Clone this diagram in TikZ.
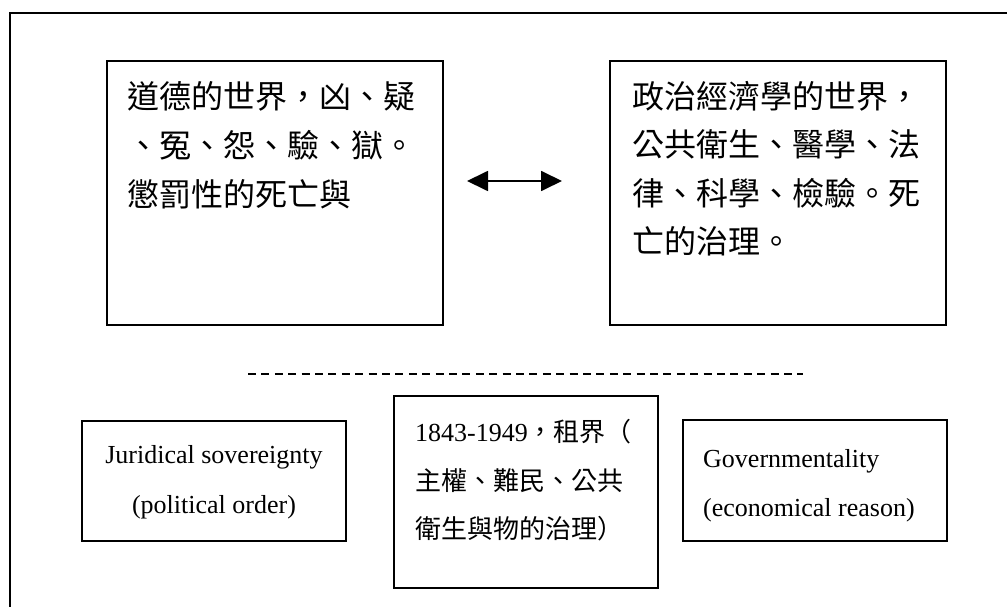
\documentclass[tikz,border=0pt]{standalone}
\usepackage{fontspec}
\setmainfont{Liberation Serif}
\newfontfamily\cjk{Noto Sans CJK TC}
\usetikzlibrary{arrows.meta}
\begin{document}
\begin{tikzpicture}[x=1pt,y=-1pt,
  frame/.style={line width=2pt},
  box/.style={draw, line width=1.8pt, inner sep=0pt, outer sep=0pt},
  bigcjk/.style={anchor=base west, inner sep=0pt, font=\cjk\fontsize{32}{32}\selectfont},
  smallcjk/.style={anchor=base west, inner sep=0pt, font=\cjk\fontsize{26}{26}\selectfont},
  entext/.style={inner sep=0pt, font=\fontsize{26}{26}\selectfont},
  dblarrow/.style={line width=1.8pt, {Triangle[length=21pt,width=20pt]}-{Triangle[length=21pt,width=20pt]}},
  sepline/.style={line width=1.3pt, dash pattern=on 8pt off 5.4pt}
]
\clip (0,0) rectangle (1007,607);
\fill[white] (0,0) rectangle (1007,607);
\draw[frame] (1040,13) -- (10,13) -- (10,640);

% upper boxes
\node[box, minimum width=336pt, minimum height=264pt] (b1) at (275,193) {};
\node[box, minimum width=336pt, minimum height=264pt] (b2) at (778,193) {};

\node[bigcjk] (b1l1) at (127,109) {道德的世界，凶、疑};
\node[bigcjk] (b1l2) at (127,158) {、冤、怨、驗、獄。};
\node[bigcjk] (b1l3) at (127,207) {懲罰性的死亡與};

\node[bigcjk] (b2l1) at (632,109) {政治經濟學的世界，};
\node[bigcjk] (b2l2) at (632,157) {公共衛生、醫學、法};
\node[bigcjk] (b2l3) at (632,205) {律、科學、檢驗。死};
\node[bigcjk] (b2l4) at (632,253) {亡的治理。};

\draw[dblarrow, shorten <=24pt, shorten >=48pt] ([yshift=12pt]b1.east) -- ([yshift=12pt]b2.west);

% dashed separator
\coordinate (dl) at (248,374);
\coordinate (dr) at (803,374);
\draw[sepline] (dl) -- (dr);

% lower boxes
\node[box, minimum width=264pt, minimum height=120pt] (c1) at (214,481) {};
\node[box, minimum width=264pt, minimum height=192pt] (c2) at (526,492) {};
\node[box, minimum width=264pt, minimum height=121pt] (c3) at (815,480.5) {};

\node[entext, anchor=base] (c1l1) at (214,463) {Juridical sovereignty};
\node[entext, anchor=base] (c1l2) at (214,513) {(political order)};

\node[entext, anchor=base west] (c2l1) at (415,441) {1843-1949{\cjk ，租界（}};
\node[smallcjk] (c2l2) at (415,490) {主權、難民、公共};
\node[smallcjk] (c2l3) at (415,538) {衛生與物的治理）};

\node[entext, anchor=base west] (c3l1) at (703,467) {Governmentality};
\node[entext, anchor=base west] (c3l2) at (703,516) {(economical reason)};
\end{tikzpicture}
\end{document}
